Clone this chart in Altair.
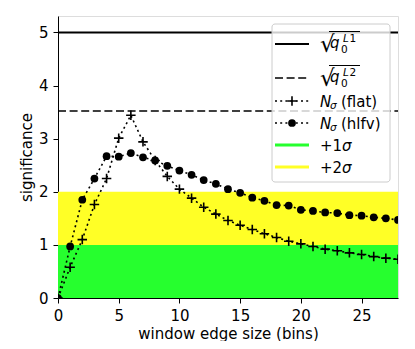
import altair as alt
import pandas as pd

# ---- data ----
window = list(range(0, 29))
n_flat = [0.0, 0.58, 1.10, 1.76, 2.25, 3.01, 3.44, 2.94, 2.59, 2.29, 2.05, 1.88, 1.71,
          1.58, 1.46, 1.37, 1.29, 1.21, 1.14, 1.07, 1.02, 0.97, 0.92, 0.89, 0.85,
          0.82, 0.78, 0.75, 0.73]
n_hlfv = [0.0, 0.97, 1.85, 2.25, 2.67, 2.66, 2.73, 2.65, 2.59, 2.49, 2.40, 2.32, 2.22,
          2.15, 2.05, 1.98, 1.89, 1.83, 1.75, 1.74, 1.66, 1.64, 1.61, 1.60, 1.56,
          1.55, 1.52, 1.50, 1.47]
q0_L1 = 5.0
q0_L2 = 3.52
band_lo = [0, 1]
band_hi = [1, 2]
x_ticks = [0, 5, 10, 15, 20, 25]
y_ticks = [0, 1, 2, 3, 4, 5]

W, H = 340, 282
FONT = "DejaVu Sans"
GREEN = "#26ff2e"
YELLOW = "#ffff26"

df = pd.DataFrame({"x": window, "flat": n_flat, "hlfv": n_hlfv})
one = pd.DataFrame({"a": [0]})

xs = alt.Scale(domain=[0, 28], nice=False, zero=False)
ys = alt.Scale(domain=[0, 5.31], nice=False, zero=False)

xaxis = alt.Axis(values=x_ticks, format="d", title="window edge size (bins)", grid=False,
                 labelFontSize=15, titleFontSize=15, labelFont=FONT, titleFont=FONT,
                 titleFontWeight="normal", tickSize=5, labelPadding=5, titlePadding=3,
                 domainColor="black", tickColor="black", labelColor="black", titleColor="black",
                 labelFlush=False)
yaxis = alt.Axis(values=y_ticks, format="d", title="significance", grid=False,
                 labelFontSize=15, titleFontSize=15, labelFont=FONT, titleFont=FONT,
                 titleFontWeight="normal", tickSize=5, labelPadding=5, titlePadding=4,
                 domainColor="black", tickColor="black", labelColor="black", titleColor="black",
                 labelFlush=False)

bands = alt.Chart(pd.DataFrame({"lo": band_lo, "hi": band_hi, "c": ["g", "y"]})).mark_rect().encode(
    y=alt.Y("lo:Q", scale=ys, axis=yaxis),
    y2="hi:Q",
    x=alt.value(0), x2=alt.value(W),
    color=alt.Color("c:N", scale=alt.Scale(domain=["g", "y"], range=[GREEN, YELLOW]), legend=None),
)

line5 = alt.Chart(pd.DataFrame({"y": [q0_L1]})).mark_rule(color="black", strokeWidth=2).encode(
    y=alt.Y("y:Q", scale=ys), x=alt.value(0), x2=alt.value(W))
line352 = alt.Chart(pd.DataFrame({"y": [q0_L2]})).mark_rule(
    color="black", strokeWidth=1.6, strokeDash=[8, 3.6]).encode(
    y=alt.Y("y:Q", scale=ys), x=alt.value(0), x2=alt.value(W))

base = alt.Chart(df)
X = alt.X("x:Q", scale=xs, axis=xaxis)
CROSS = "M-1,0H1M0,-1V1"

flat_line = base.mark_line(color="black", strokeWidth=1.6, strokeDash=[2, 3.2], clip=True).encode(
    x=X, y=alt.Y("flat:Q", scale=ys))
flat_pts = base.mark_point(shape=CROSS, size=90, filled=False, color="black", strokeWidth=1.6,
                           opacity=1, clip=True).encode(x=X, y=alt.Y("flat:Q", scale=ys))
hlfv_line = base.mark_line(color="black", strokeWidth=1.6, strokeDash=[2, 3.2], clip=True).encode(
    x=X, y=alt.Y("hlfv:Q", scale=ys))
hlfv_pts = base.mark_point(shape="circle", size=60, filled=True, color="black", opacity=1,
                           clip=True).encode(x=X, y=alt.Y("hlfv:Q", scale=ys))

# ---- legend (drawn by hand, positions in pixels) ----
leg = []
leg.append(alt.Chart(one).mark_rect(cornerRadius=3, fill="white", fillOpacity=0.8,
                                    stroke="#cccccc", strokeWidth=1).encode(
    x=alt.value(214), x2=alt.value(332), y=alt.value(8), y2=alt.value(166)))

LX1, LX2, TX = 217, 251, 262
rows = [28, 62, 85, 107, 129, 151]


def rule(y, **kw):
    return alt.Chart(one).mark_rule(**kw).encode(x=alt.value(LX1), x2=alt.value(LX2), y=alt.value(y))


def txt(x, y, s, size=15, style="normal", baseline="alphabetic"):
    return alt.Chart(one).mark_text(align="left", baseline=baseline, font=FONT, fontSize=size,
                                    fontStyle=style, color="black").encode(
        x=alt.value(x), y=alt.value(y), text=alt.value(s))


leg.append(rule(rows[0], color="black", strokeWidth=2))
leg.append(rule(rows[1], color="black", strokeWidth=1.6, strokeDash=[8, 3.6]))
leg.append(rule(rows[2], color="black", strokeWidth=1.6, strokeDash=[2, 3.2]))
leg.append(rule(rows[3], color="black", strokeWidth=1.6, strokeDash=[2, 3.2]))
leg.append(rule(rows[4], color=GREEN, strokeWidth=3))
leg.append(rule(rows[5], color=YELLOW, strokeWidth=3))
leg.append(alt.Chart(one).mark_point(shape=CROSS, size=90, filled=False, color="black",
                                     strokeWidth=1.6, opacity=1).encode(
    x=alt.value(234), y=alt.value(rows[2])))
leg.append(alt.Chart(one).mark_point(shape="circle", size=60, filled=True, color="black",
                                     opacity=1).encode(x=alt.value(234), y=alt.value(rows[3])))

for ly, sup in [(rows[0], "1"), (rows[1], "2")]:
    leg.append(txt(TX, ly + 8, "√", size=23))
    leg.append(alt.Chart(one).mark_rule(color="black", strokeWidth=1).encode(
        x=alt.value(271), x2=alt.value(302), y=alt.value(ly - 12.5)))
    leg.append(txt(272, ly + 4, "q", style="italic"))
    leg.append(txt(283, ly + 9, "0", size=10.5))
    leg.append(txt(285, ly - 2, "L", size=10.5, style="italic"))
    leg.append(txt(291.5, ly - 2, sup, size=10.5))

for ly, lab in [(rows[2], "(flat)"), (rows[3], "(hlfv)")]:
    leg.append(txt(TX, ly + 5.5, "N", style="italic"))
    leg.append(txt(272, ly + 8, "σ", size=10.5, style="italic"))
    leg.append(txt(283, ly + 5.5, lab))

for ly, lab in [(rows[4], "+1"), (rows[5], "+2")]:
    leg.append(txt(TX, ly + 5.5, lab))
    leg.append(txt(284, ly + 5.5, "σ", style="italic"))

chart = alt.layer(bands, line5, line352, flat_line, hlfv_line, flat_pts, hlfv_pts, *leg).properties(
    width=W, height=H,
    autosize=alt.AutoSizeParams(type="none"),
    padding={"left": 50, "top": 8, "right": 9, "bottom": 43},
).configure_view(stroke="black", strokeWidth=1).configure(background="white")

chart.save("out.html", embed_options={"renderer": "svg", "actions": False})
